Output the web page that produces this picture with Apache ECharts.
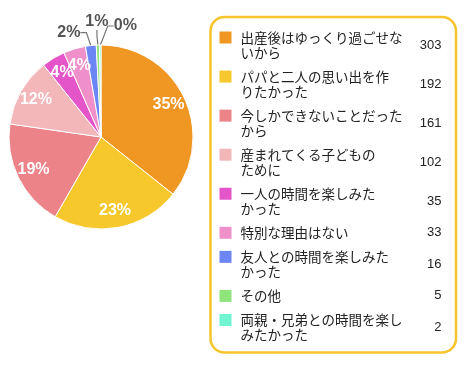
<!DOCTYPE html>
<html><head><meta charset="utf-8">
<script src="https://cdn.jsdelivr.net/npm/echarts@6/dist/echarts.min.js"></script>
<style>html,body{margin:0;padding:0;background:#fff}#c{width:471px;height:372px}</style>
</head><body><div id="c"></div>
<script>
const categories = [
  '出産後はゆっくり過ごせな\nいから',
  'パパと二人の思い出を作\nりたかった',
  '今しかできないことだった\nから',
  '産まれてくる子どもの\nために',
  '一人の時間を楽しみた\nかった',
  '特別な理由はない',
  '友人との時間を楽しみた\nかった',
  'その他',
  '両親・兄弟との時間を楽し\nみたかった'
];
const values = [303, 192, 161, 102, 35, 33, 16, 5, 2];
const pctLabels = ['35%', '23%', '19%', '12%', '4%', '4%', '2%', '1%', '0%'];
const colors = ['#F09623', '#F6C82C', '#EC8389', '#F3B7BA', '#E455C9', '#EF90CB', '#6C86F5', '#8FE57B', '#70F4D2'];

const total = values.reduce((a, b) => a + b, 0);
const isSmall = i => values[i] / total < 0.03;
const twoLine = n => n.indexOf('\n') >= 0;
// offsets of the outside labels from their anchor point on the rim
const outsideOffsets = {6: [-22, -13], 7: [-1, -23], 8: [25, -19]};

const FS = 13.5, LH = 15, GAP = 10.56;
const chart = echarts.init(document.getElementById('c'), null, {renderer: 'canvas'});
chart.setOption({
  animation: false,
  tooltip: {show: false},
  legend: [
    {
      orient: 'vertical', left: 219.5, top: 30.75, padding: 0, itemGap: GAP,
      itemWidth: 12, itemHeight: 12, icon: 'rect', selectedMode: false,
      itemStyle: {borderWidth: 0},
      data: categories.map(n => ({name: n, textStyle: {padding: twoLine(n) ? [LH, 0, 0, 4] : [0, 0, 0, 4]}})),
      formatter: n => '{n|' + n + '}',
      textStyle: {rich: {n: {fontFamily: 'Noto Sans CJK JP', fontSize: FS, lineHeight: LH, color: '#222'}}}
    },
    {
      orient: 'vertical', right: 15, top: 17, padding: [13.75, 9.5, 10.75, 11], itemGap: GAP,
      itemWidth: 0, itemHeight: 2, icon: 'rect', align: 'right', selectedMode: false,
      itemStyle: {borderWidth: 0, opacity: 0},
      borderColor: '#F6C52C', borderWidth: 2.5, borderRadius: 14,
      data: categories.map(n => ({name: n, textStyle: {padding: twoLine(n) ? [LH / 2, 0, LH / 2, 0] : [0, 0, 0, 0]}})),
      formatter: n => '{v|' + values[categories.indexOf(n)] + '}',
      textStyle: {width: 220, backgroundColor: 'rgba(0,0,0,0)',
        rich: {v: {fontFamily: 'Liberation Sans', fontSize: 13, lineHeight: FS, align: 'right', color: '#222'}}}
    }
  ],
  series: [
    {
      type: 'pie', center: [101, 137], radius: 92, startAngle: 90,
      emphasis: {disabled: true}, avoidLabelOverlap: false,
      itemStyle: {borderColor: '#fff', borderWidth: 1},
      label: {position: 'outside', formatter: p => pctLabels[p.dataIndex], color: '#555',
        fontWeight: 'bold', fontSize: 16, fontFamily: 'Liberation Sans'},
      labelLine: {length: 8, length2: 6, lineStyle: {color: '#777', width: 1.2}},
      labelLayout: function (params) {
        const off = outsideOffsets[params.dataIndex];
        if (!off || !params.labelLinePoints) return {};
        const p0 = params.labelLinePoints[0];
        return {x: p0[0] + off[0], y: p0[1] + off[1], align: 'center', verticalAlign: 'middle', hideOverlap: false};
      },
      data: values.map((v, i) => ({
        name: categories[i], value: v, itemStyle: {color: colors[i]},
        label: {show: isSmall(i)}, labelLine: {show: isSmall(i)}
      }))
    },
    {
      type: 'pie', center: [101, 137], radius: 144, startAngle: 90, silent: true,
      emphasis: {disabled: true}, avoidLabelOverlap: false,
      labelLayout: {hideOverlap: false},
      itemStyle: {color: 'rgba(0,0,0,0)', borderWidth: 0},
      label: {position: 'inside', formatter: p => pctLabels[p.dataIndex], color: '#fff',
        fontWeight: 'bold', fontSize: 16, fontFamily: 'Liberation Sans'},
      labelLine: {show: false},
      data: values.map((v, i) => ({name: categories[i], value: v, label: {show: !isSmall(i)}}))
    }
  ]
});
</script></body></html>
